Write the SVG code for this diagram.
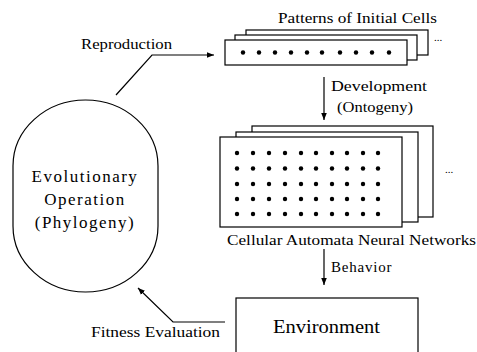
<svg xmlns="http://www.w3.org/2000/svg" width="477" height="352" viewBox="0 0 477 352">
<defs>
<style>
text{font-family:'Liberation Serif','Times New Roman',serif;fill:#000;}
.box{fill:#fff;stroke:#000;stroke-width:1.2;}
.ln{fill:none;stroke:#000;stroke-width:1.2;}
.dot{fill:#000;}
</style>
<marker id="ah" viewBox="0 0 10 10" refX="10" refY="5" markerWidth="7" markerHeight="7" markerUnits="userSpaceOnUse" orient="auto">
<path d="M0,1 L10,5 L0,9 Z" fill="#000"/>
</marker>
</defs>
<rect width="477" height="352" fill="#fff"/>

<g id="patterns">
<text x="278" y="23" font-size="15" textLength="159" lengthAdjust="spacingAndGlyphs">Patterns of Initial Cells</text>
<rect class="box" x="246" y="30" width="182" height="25"/>
<rect class="box" x="235" y="35" width="182" height="25"/>
<rect class="box" x="225" y="40" width="182" height="25"/>
<g class="dot">
<circle cx="243" cy="52.5" r="2.2"/><circle cx="259" cy="52.5" r="2.2"/><circle cx="275" cy="52.5" r="2.2"/><circle cx="291" cy="52.5" r="2.2"/><circle cx="307" cy="52.5" r="2.2"/><circle cx="322" cy="52.5" r="2.2"/><circle cx="340" cy="52.5" r="2.2"/><circle cx="356" cy="52.5" r="2.2"/><circle cx="372" cy="52.5" r="2.2"/><circle cx="389" cy="52.5" r="2.2"/>
</g>
<text x="434" y="41" font-size="11" fill="#555">...</text>
</g>

<g id="ca">
<rect class="box" x="252" y="126" width="181" height="91"/>
<rect class="box" x="236" y="132" width="182" height="90"/>
<rect class="box" x="220" y="137" width="182" height="90"/>
<g class="dot">
<circle cx="237" cy="153" r="2.2"/><circle cx="253" cy="153" r="2.2"/><circle cx="269" cy="153" r="2.2"/><circle cx="285" cy="153" r="2.2"/><circle cx="301" cy="153" r="2.2"/><circle cx="316" cy="153" r="2.2"/><circle cx="332" cy="153" r="2.2"/><circle cx="347" cy="153" r="2.2"/><circle cx="363" cy="153" r="2.2"/><circle cx="378" cy="153" r="2.2"/>
<circle cx="237" cy="168.5" r="2.2"/><circle cx="253" cy="168.5" r="2.2"/><circle cx="269" cy="168.5" r="2.2"/><circle cx="285" cy="168.5" r="2.2"/><circle cx="301" cy="168.5" r="2.2"/><circle cx="316" cy="168.5" r="2.2"/><circle cx="332" cy="168.5" r="2.2"/><circle cx="347" cy="168.5" r="2.2"/><circle cx="363" cy="168.5" r="2.2"/><circle cx="378" cy="168.5" r="2.2"/>
<circle cx="237" cy="184" r="2.2"/><circle cx="253" cy="184" r="2.2"/><circle cx="269" cy="184" r="2.2"/><circle cx="285" cy="184" r="2.2"/><circle cx="301" cy="184" r="2.2"/><circle cx="316" cy="184" r="2.2"/><circle cx="332" cy="184" r="2.2"/><circle cx="347" cy="184" r="2.2"/><circle cx="363" cy="184" r="2.2"/><circle cx="378" cy="184" r="2.2"/>
<circle cx="237" cy="199" r="2.2"/><circle cx="253" cy="199" r="2.2"/><circle cx="269" cy="199" r="2.2"/><circle cx="285" cy="199" r="2.2"/><circle cx="301" cy="199" r="2.2"/><circle cx="316" cy="199" r="2.2"/><circle cx="332" cy="199" r="2.2"/><circle cx="347" cy="199" r="2.2"/><circle cx="363" cy="199" r="2.2"/><circle cx="378" cy="199" r="2.2"/>
<circle cx="237" cy="214" r="2.2"/><circle cx="253" cy="214" r="2.2"/><circle cx="269" cy="214" r="2.2"/><circle cx="285" cy="214" r="2.2"/><circle cx="301" cy="214" r="2.2"/><circle cx="316" cy="214" r="2.2"/><circle cx="332" cy="214" r="2.2"/><circle cx="347" cy="214" r="2.2"/><circle cx="363" cy="214" r="2.2"/><circle cx="378" cy="214" r="2.2"/>
</g>
<text x="445" y="173" font-size="11" fill="#555">...</text>
<text x="227" y="245" font-size="15" textLength="249" lengthAdjust="spacingAndGlyphs">Cellular Automata Neural Networks</text>
</g>

<g id="evolution">
<rect class="box" x="13" y="100" width="145" height="192" rx="72.5" ry="66"/>
<text x="85" y="182" font-size="17" text-anchor="middle" letter-spacing="1.5">Evolutionary</text>
<text x="85" y="205" font-size="17" text-anchor="middle" letter-spacing="1.5">Operation</text>
<text x="85" y="228" font-size="17" text-anchor="middle" letter-spacing="1.5">(Phylogeny)</text>
</g>

<g id="environment">
<rect class="box" x="236" y="298" width="182" height="60"/>
<text x="273" y="333" font-size="18" textLength="107" lengthAdjust="spacingAndGlyphs">Environment</text>
</g>

<g id="connectors">
<polyline class="ln" points="116,95 152,55 214,55" marker-end="url(#ah)"/>
<text x="81" y="49" font-size="14" textLength="91" lengthAdjust="spacingAndGlyphs">Reproduction</text>
<line class="ln" x1="324" y1="77" x2="324" y2="120" marker-end="url(#ah)"/>
<text x="331" y="91" font-size="14" textLength="96" lengthAdjust="spacingAndGlyphs">Development</text>
<text x="337" y="112" font-size="14" textLength="76" lengthAdjust="spacingAndGlyphs">(Ontogeny)</text>
<line class="ln" x1="324" y1="249" x2="324" y2="285" marker-end="url(#ah)"/>
<text x="331" y="272" font-size="15" letter-spacing="0.8">Behavior</text>
<polyline class="ln" points="225,322 173,322 138,288" marker-end="url(#ah)"/>
<text x="91" y="337" font-size="14" textLength="129" lengthAdjust="spacingAndGlyphs">Fitness Evaluation</text>
</g>
</svg>
